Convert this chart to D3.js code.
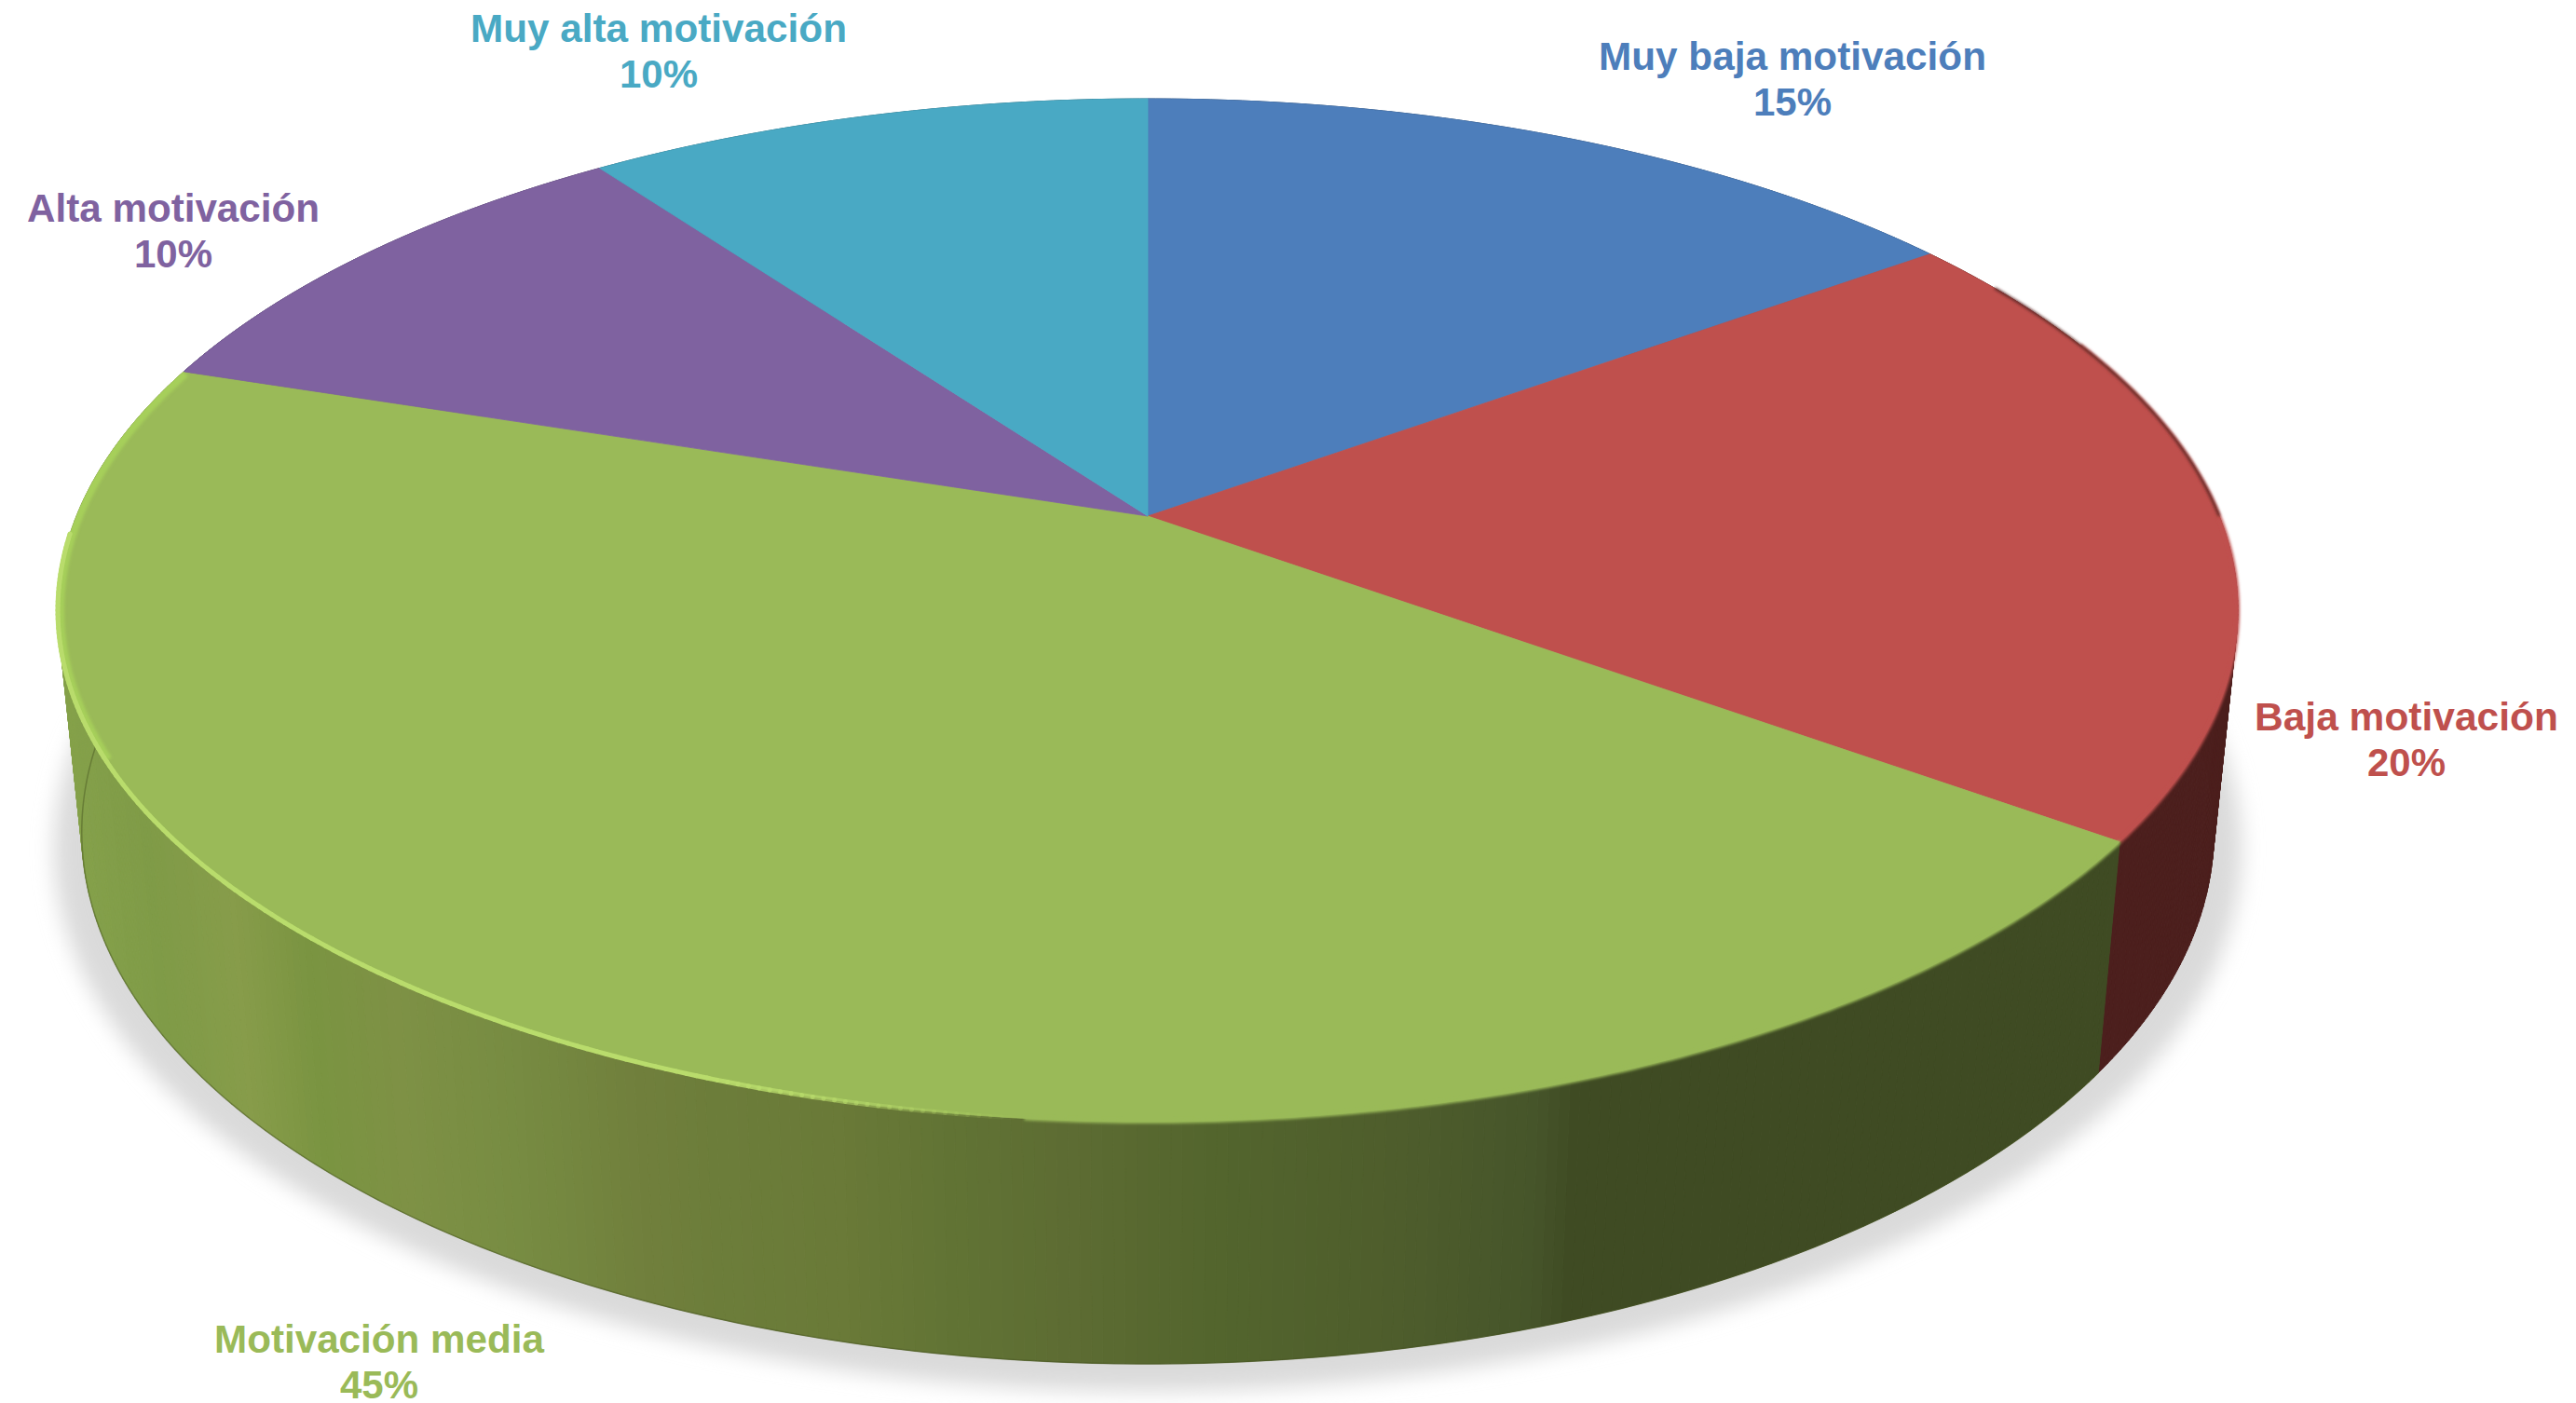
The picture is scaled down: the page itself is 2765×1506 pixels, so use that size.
<!DOCTYPE html>
<html><head><meta charset="utf-8">
<script src="https://cdn.jsdelivr.net/npm/d3@7/dist/d3.min.js"></script>
<style>html,body{margin:0;padding:0;background:#fff}svg{display:block}text{font-family:"Liberation Sans",Arial,sans-serif;font-weight:700}</style>
</head><body><svg id="c" width="2765" height="1506"></svg>
<script>
// ---- data ----
const categories = ["Muy baja motivación","Baja motivación","Motivación media","Alta motivación","Muy alta motivación"];
const values = [15,20,45,10,10];
const percentLabels = ["15%","20%","45%","10%","10%"];
const topColors = ["#4d7ebb","#bf504d","#9aba58","#7f62a0","#49a9c4"];
const wallColors = ["#2a4566","#4c1f1d","#3f4b23","#44345a","#265e6e"];
// ---- layout (label centre x, first baseline, name width) ----
const labelX = [1924,2583,407,186,707];
const labelY = [75,784,1452,238,45];
const labelW = [416,326,354,314,404];
// shading of the green wall along the screen x
const shadeX = [60,100,180,270,350,440,560,700,780,900,1030,1150,1300,1500,1640,1680,2300];
const shadeC = ["#86a24b","#84a04a","#7f9b47","#879c4a","#7a9441","#7e9145","#778c42","#707f3c","#6c7d3a","#6a7a38","#617334","#5d6c33","#53652d","#4e5d2c","#46552a","#3f4b23","#3f4b23"];

const cx=1232, apexY=554, D=1150, A=530.4, K=0.184;   // perspective of the top disc
const wallSX=0.978, wallSY=1.04, wallY=788;           // bottom ring
const svg=d3.select("#c");
const defs=svg.append("defs");
defs.append("filter").attr("id","sh").attr("x","-10%").attr("y","-10%").attr("width","120%").attr("height","120%")
  .append("feGaussianBlur").attr("stdDeviation",11);
defs.append("filter").attr("id","soft").attr("x","-5%").attr("y","-5%").attr("width","110%").attr("height","110%")
  .append("feGaussianBlur").attr("stdDeviation",1.6);

const pie=d3.pie().sort(null).startAngle(0).endAngle(2*Math.PI);
const arcs=pie(values);
function topPt(t){const u=Math.sin(t),v=-Math.cos(t),w=1-K*v;return [D*u/w,A*v/w];}
const T=t=>{const p=topPt(t);return [cx+p[0],apexY+p[1]];};
const B=t=>{const p=topPt(t);return [cx+wallSX*p[0],wallY+wallSY*p[1]];};
const line=d3.line();
const STEP=Math.PI/360;
const samples=(a,b)=>d3.range(a,b,STEP).concat([b]);
const shade=d3.scaleLinear().domain(shadeX).range(shadeC).clamp(true);

// shadow: the foot ring, slightly enlarged and lowered
const ringAll=samples(0,2*Math.PI);
const S=t=>{const p=topPt(t);return [cx+wallSX*1.026*p[0],wallY+16+wallSY*1.02*p[1]];};
svg.append("path").attr("d",line(ringAll.map(S))+"Z").attr("fill","#dadada").attr("filter","url(#sh)");

// side wall
const wall=svg.append("g");
arcs.forEach((a,i)=>{
  const ts=samples(a.startAngle,a.endAngle);
  d3.pairs(ts).forEach(([t0,t1])=>{
    const mid=B((t0+t1)/2)[0];
    const col=categories[i]==="Motivación media"?shade(mid):wallColors[i];
    wall.append("path").attr("d",line([T(t0),T(t1),B(t1),B(t0)])+"Z")
        .attr("fill",col).attr("stroke",col).attr("stroke-width",1);
  });
});
// thin dark line at the foot of the wall
svg.append("path").attr("d",line(samples(arcs[2].startAngle,arcs[2].endAngle).map(B)))
   .attr("fill","none").attr("stroke","#44521f").attr("stroke-opacity",.45).attr("stroke-width",1.5);

// top disc
const disc=svg.append("g");
arcs.forEach((a,i)=>{
  const pts=[[cx,apexY]].concat(samples(a.startAngle,a.endAngle).map(T));
  disc.append("path").attr("d",line(pts)+"Z").attr("fill",topColors[i]).attr("stroke",topColors[i]).attr("stroke-width",.8);
});
// clip for the bevel band of the green slice
defs.append("clipPath").attr("id","greenClip").append("path")
  .attr("d",line([[cx,apexY]].concat(samples(arcs[2].startAngle,arcs[2].endAngle).map(T)))+"Z");
// bevel: soft edge on the shaded side
svg.append("path").attr("d",line(samples(arcs[1].startAngle+.25,arcs[1].endAngle).map(T)))
   .attr("fill","none").attr("stroke","#bf504d").attr("stroke-width",4).attr("filter","url(#soft)");
svg.append("path").attr("d",line(samples(arcs[2].startAngle,Math.PI*1.03).map(T)))
   .attr("fill","none").attr("stroke","#9aba58").attr("stroke-width",4).attr("filter","url(#soft)");
svg.append("path").attr("d",line(samples(arcs[1].startAngle+.1,Math.PI*.5).map(T)))
   .attr("fill","none").attr("stroke","#5b2624").attr("stroke-width",2.5).attr("filter","url(#soft)");
// bevel: lighter band and highlight on the lit side
const bandG=svg.append("g").attr("clip-path","url(#greenClip)");
bandG.append("path").attr("d",line(samples(Math.PI*1.35,arcs[2].endAngle).map(T)))
   .attr("fill","none").attr("stroke","#a6cf5a").attr("stroke-width",14).attr("filter","url(#soft)");
const hl=samples(Math.PI*1.03,arcs[2].endAngle-.35);
d3.pairs(hl).forEach(([t0,t1])=>{
  const f=Math.min(1,(t0-Math.PI*1.03)/.25);
  svg.append("path").attr("d",line([T(t0),T(t1)])).attr("fill","none")
     .attr("stroke","#b9dc6c").attr("stroke-opacity",f).attr("stroke-width",5).attr("stroke-linecap","round");
});

// labels
categories.forEach((c,i)=>{
  const g=svg.append("g").attr("fill",topColors[i]).attr("font-size",42).attr("text-anchor","middle");
  g.append("text").attr("x",labelX[i]).attr("y",labelY[i]).attr("textLength",labelW[i]).attr("lengthAdjust","spacingAndGlyphs").text(c);
  g.append("text").attr("x",labelX[i]).attr("y",labelY[i]+49).text(percentLabels[i]);
});
</script></body></html>
